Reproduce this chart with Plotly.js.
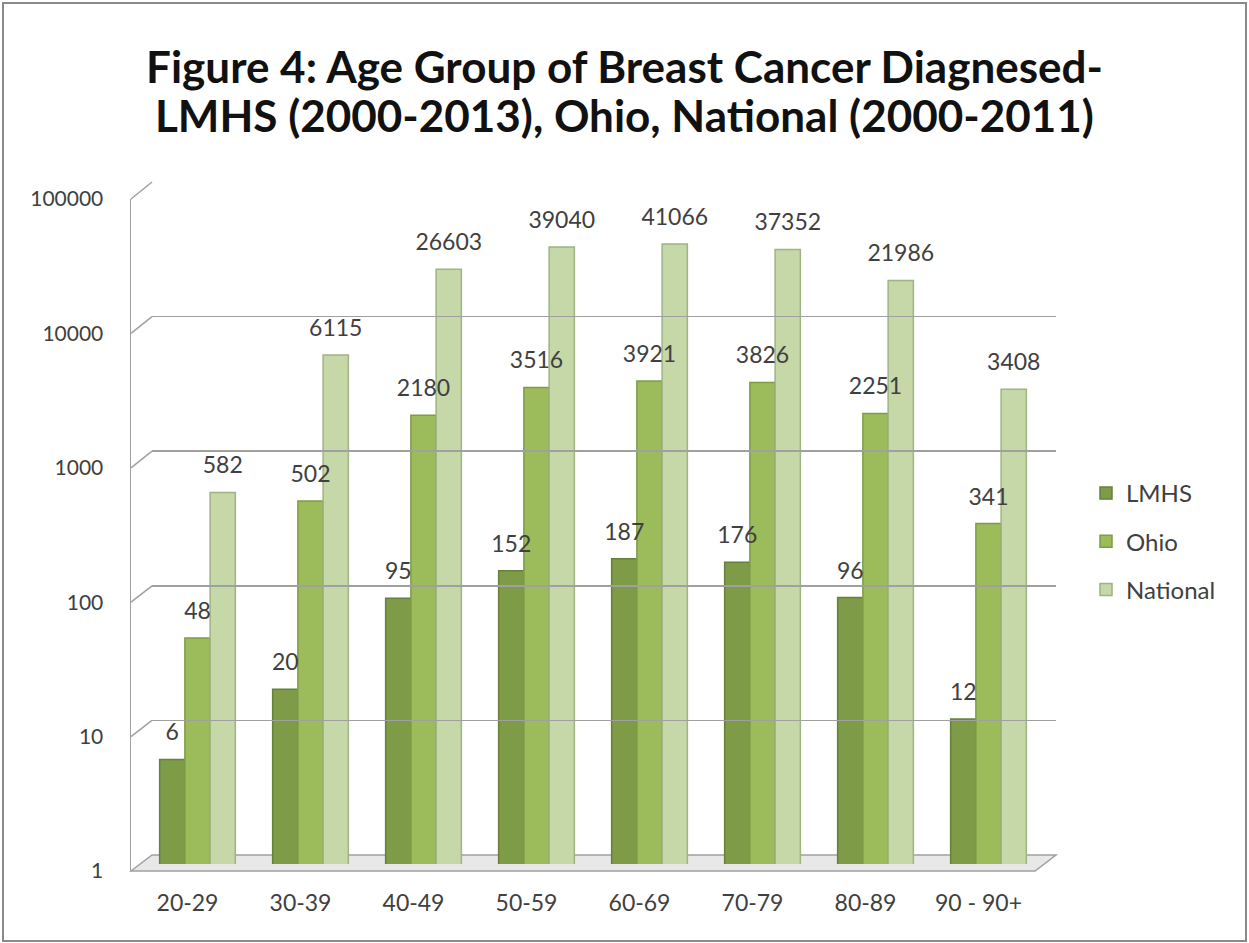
<!DOCTYPE html>
<html>
<head>
<meta charset="utf-8">
<script src="https://cdn.plot.ly/plotly-3.0.1.min.js"></script>
<style>html,body{margin:0;padding:0;background:#fff;}#chart{width:1249px;height:943px;}</style>
</head>
<body>
<div id="chart"></div>
<script>
// ---- data ----
const categories = ["20-29","30-39","40-49","50-59","60-69","70-79","80-89","90 - 90+"];
const lmhs     = [6, 20, 95, 152, 187, 176, 96, 12];
const ohio     = [48, 502, 2180, 3516, 3921, 3826, 2251, 341];
const national = [582, 6115, 26603, 39040, 41066, 37352, 21986, 3408];
const seriesNames = ["LMHS", "Ohio", "National"];
const yTickVals = [1, 10, 100, 1000, 10000, 100000];
const yTickText = ["1", "10", "100", "1000", "10000", "100000"];
const titleLine1 = "Figure 4: Age Group of Breast Cancer Diagnesed-";
const titleLine2 = "LMHS (2000-2013), Ohio, National (2000-2011)";

// ---- layout geometry (pixels) ----
const W = 1249, H = 943;
const px = x => x / W;
const py = y => 1 - y / H;
const front = {x0: 131, x1: 1035, yb: 871, yt: 199};
const mid   = {x0: 141, x1: 1045, yb: 864, yt: 192};
const back  = {x0: 152, x1: 1056, yb: 855, yt: 182};
const lab   = {x0: 141, x1: 1045, yb: 853, yt: 181};

const colors = ["#7e9b48", "#9cbb5a", "#c6d7a8"];
const edge   = ["#66803a", "#7f9c45", "#9fb383"];
const series = [lmhs, ohio, national];
const txtColor = "#404040";
const FONT = "Lato, 'Open Sans', sans-serif";

const traces = [];
// main bars (mid depth plane)
series.forEach((vals, i) => {
  traces.push({
    type: "bar", x: categories, y: vals, name: seriesNames[i],
    xaxis: "x2", yaxis: "y2",
    marker: {color: colors[i], line: {color: edge[i], width: 1.5}},
    legendgroup: seriesNames[i], hoverinfo: "skip"
  });
});
// value labels (transparent bars on a slightly raised plane)
series.forEach((vals, i) => {
  traces.push({
    type: "bar", x: categories, y: vals, name: seriesNames[i] + " labels",
    xaxis: "x4", yaxis: "y4", showlegend: false,
    marker: {color: "rgba(0,0,0,0)"},
    text: vals.map(String), textposition: "outside", cliponaxis: false,
    constraintext: "none",
    textfont: {family: FONT, size: 23, color: txtColor},
    hoverinfo: "skip"
  });
});
// invisible trace to anchor the front axes (tick labels)
traces.push({
  type: "scatter", mode: "markers", x: categories, y: categories.map(() => 1),
  xaxis: "x", yaxis: "y", marker: {opacity: 0}, showlegend: false, hoverinfo: "skip"
});
// invisible trace on back plane (grid)
traces.push({
  type: "scatter", mode: "markers", x: categories, y: categories.map(() => 1),
  xaxis: "x3", yaxis: "y3", marker: {opacity: 0}, showlegend: false, hoverinfo: "skip"
});

const logRange = [0, 5];
const catRange = [-0.5, categories.length - 0.5];
function hidden(extra) {
  return Object.assign({visible: true, showgrid: false, zeroline: false, showline: false,
    showticklabels: false, ticks: ""}, extra);
}

const shapes = [];
// floor
shapes.push({
  type: "path", xref: "paper", yref: "paper", layer: "below",
  path: `M ${px(front.x0)} ${py(front.yb)} L ${px(front.x1)} ${py(front.yb)} L ${px(back.x1)} ${py(back.yb)} L ${px(back.x0)} ${py(back.yb)} Z`,
  fillcolor: "#e8e8e8", line: {color: "#a0a0a0", width: 1.5}
});
// diagonal connectors from front axis to back wall gridlines
for (let k = 1; k < yTickVals.length; k++) {
  const f = k / (yTickVals.length - 1);
  const fy = front.yb - (front.yb - front.yt) * f;
  const by = back.yb - (back.yb - back.yt) * f;
  shapes.push({type: "line", xref: "paper", yref: "paper", layer: "below",
    x0: px(front.x0), y0: py(fy), x1: px(back.x0), y1: py(by),
    line: {color: "#a0a0a0", width: 1.5}});
}
// outer frame
shapes.push({type: "rect", xref: "paper", yref: "paper",
  x0: px(3), y0: py(941), x1: px(1246), y1: py(3),
  line: {color: "#8a8a8a", width: 2}});

const titleFont = {family: FONT, size: 44, color: "#111111", weight: "bold"};

const layout = {
  width: W, height: H,
  margin: {l: 0, r: 0, t: 0, b: 0},
  paper_bgcolor: "#ffffff", plot_bgcolor: "rgba(0,0,0,0)",
  showlegend: true,
  barmode: "group", bargap: 0.33, bargroupgap: 0,
  title: {
    text: titleLine1,
    font: titleFont,
    x: 0.5, xanchor: "center", xref: "paper",
    y: py(68), yanchor: "middle", yref: "paper"
  },
  annotations: [{
    text: titleLine2, font: titleFont, showarrow: false,
    xref: "paper", yref: "paper", x: 0.5, xanchor: "center",
    y: py(115), yanchor: "middle"
  }],
  // front plane (tick labels, left axis line)
  xaxis: {
    domain: [px(front.x0), px(front.x1)], anchor: "y", type: "category", range: catRange,
    showgrid: false, zeroline: false, showline: false,
    ticks: "outside", ticklen: 11, tickcolor: "rgba(0,0,0,0)",
    tickfont: {family: FONT, size: 23, color: txtColor}
  },
  yaxis: {
    domain: [py(front.yb), py(front.yt)], anchor: "x", type: "log", range: logRange,
    tickvals: yTickVals, ticktext: yTickText,
    showgrid: false, zeroline: false, showline: true, linecolor: "#a0a0a0", linewidth: 1.5,
    ticks: "outside", ticklen: 22, tickcolor: "rgba(0,0,0,0)",
    tickfont: {family: FONT, size: 21, color: txtColor}
  },
  // mid plane (bars)
  xaxis2: hidden({domain: [px(mid.x0), px(mid.x1)], anchor: "y2", type: "category", range: catRange}),
  yaxis2: hidden({domain: [py(mid.yb), py(mid.yt)], anchor: "x2", type: "log", range: logRange}),
  // back wall (gridlines)
  xaxis3: hidden({domain: [px(back.x0), px(back.x1)], anchor: "y3", type: "category", range: catRange}),
  yaxis3: hidden({domain: [py(back.yb), py(back.yt)], anchor: "x3", type: "log", range: logRange,
    showgrid: true, tickvals: yTickVals, gridcolor: "#a0a0a0", gridwidth: 1.5}),
  // label plane
  xaxis4: hidden({domain: [px(lab.x0), px(lab.x1)], anchor: "y4", type: "category", range: catRange}),
  yaxis4: hidden({domain: [py(lab.yb), py(lab.yt)], anchor: "x4", type: "log", range: logRange}),
  legend: {
    x: px(1086), y: py(471), xanchor: "left", yanchor: "top",
    font: {family: FONT, size: 24, color: txtColor},
    traceorder: "grouped", tracegroupgap: 14,
    itemwidth: 30, bgcolor: "rgba(0,0,0,0)"
  },
  shapes: shapes
};

Plotly.newPlot("chart", traces, layout, {staticPlot: true, displayModeBar: false});
</script>
</body>
</html>
